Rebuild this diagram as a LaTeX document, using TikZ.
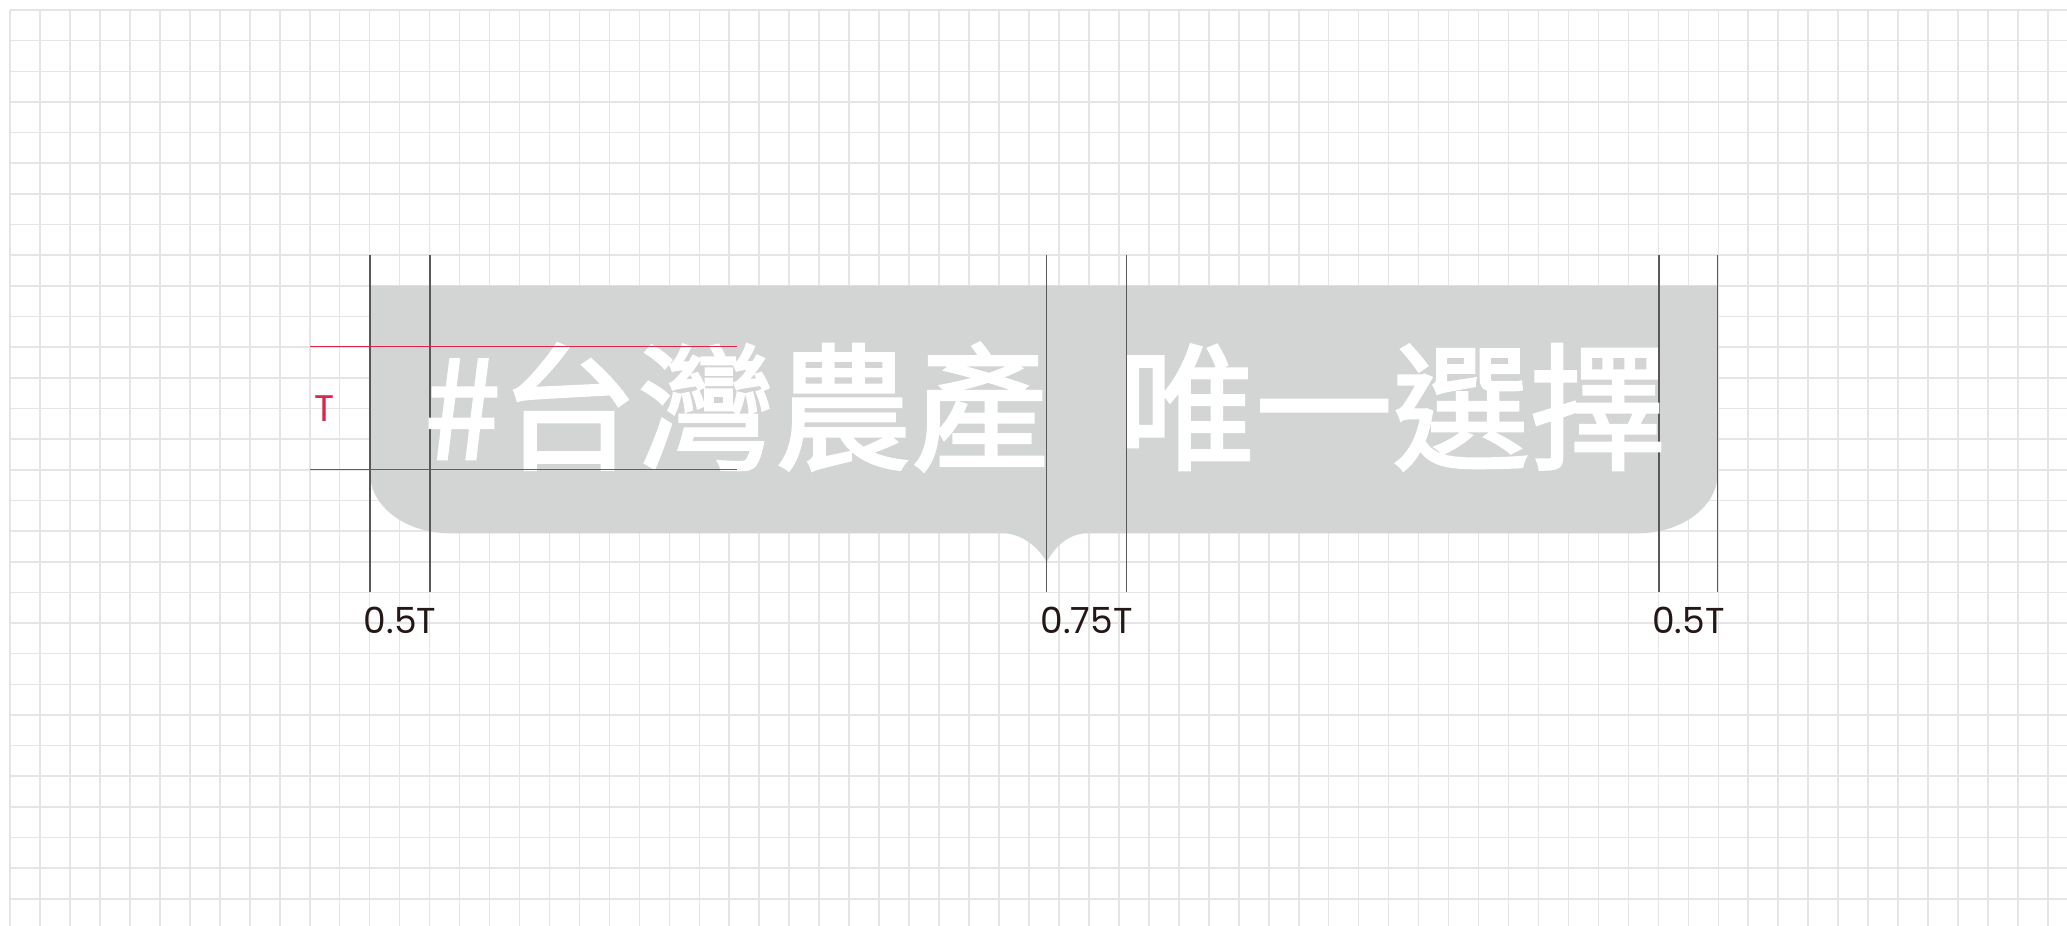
\documentclass[tikz,border=0pt]{standalone}
\usepackage{fontspec}
\usepackage{tikz}
\usetikzlibrary{positioning}
\usepackage{xcolor}
\setsansfont{Poppins}
\newfontfamily\cjk{Noto Sans CJK TC}[FakeBold=2]
\definecolor{gridgray}{RGB}{229,229,229}
\definecolor{boxgray}{RGB}{211,212,212}
\definecolor{guidegray}{RGB}{89,87,87}
\definecolor{markred}{RGB}{222,36,72}
\definecolor{labelblack}{RGB}{35,24,21}

\begin{document}
\begin{tikzpicture}[x=0.5pt, y=-0.5pt,
		gridline/.style={gridgray, line width=0.8pt},
		guide/.style={guidegray, line width=0.7pt},
		redline/.style={markred, line width=0.7pt},
		dimlabel/.style={inner sep=0, anchor=base, text=labelblack, font=\sffamily\fontsize{18}{20}\selectfont},
		tagtext/.style={inner sep=0, text=white, font=\cjk\fontsize{68.5}{70}\selectfont}]
	\fill[white] (0,0) rectangle (2067,926);
	\useasboundingbox (0,0) rectangle (2067,926);
	\foreach \i in {0,...,68}
		\draw[gridline] ({10+29.97*\i},10) -- ({10+29.97*\i},926);
	\foreach \j in {0,...,29}
		\draw[gridline] (10,{10+30.65*\j}) -- (2067,{10+30.65*\j});
	\fill[boxgray] (370,285.7) -- (1717.7,285.7) -- (1717.7,473.3)
		.. controls (1717.7,506.4) and (1681.9,533.3) .. (1637.7,533.3)
		-- (1087,533.3) .. controls (1068,533.3) and (1054,548) .. (1046.7,562)
		.. controls (1039,548) and (1022,533.3) .. (1003,533.3)
		-- (450,533.3) .. controls (405.8,533.3) and (370,506.4) .. (370,473.3) -- cycle;
	\foreach \x/\n in {370/a,430/b,1046.7/c,1126.7/d,1659/e,1717.7/f} {
		\coordinate (\n top) at (\x,255);
		\coordinate (\n bot) at (\x,591.7);
		\draw[guide] (\n top) -- (\n bot);
	}
	\node[tagtext, anchor=base east] (tagleft) at (1049,459) {\#台灣農產};
	\node[tagtext, anchor=base west] (tagright) at (1118,459) {唯一選擇};
	\coordinate (captopw) at (310,346.7);
	\coordinate (captope) at (736.7,346.7);
	\coordinate (capbotw) at (310,469.3);
	\coordinate (capbote) at (736.7,469.3);
	\draw[redline] (captopw) -- (captope);
	\draw[redline] (capbotw) -- (capbote);
	\node[inner sep=0, text=markred, font=\sffamily\fontsize{18.5}{20}\selectfont] (tmark) at (325,409) {T};
	\node[dimlabel] (leftlabel) at (400,633) {0.5T};
	\node[dimlabel] (midlabel) at (1086.7,633) {0.75T};
	\node[dimlabel] (rightlabel) at (1688.4,633) {0.5T};
\end{tikzpicture}
\end{document}
